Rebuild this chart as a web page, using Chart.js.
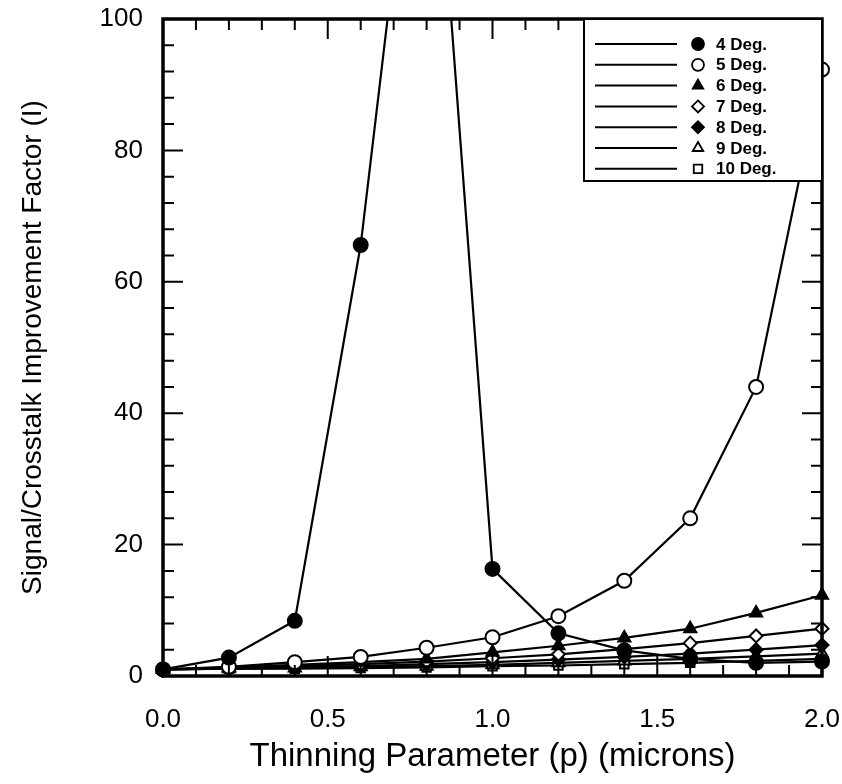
<!DOCTYPE html>
<html>
<head>
<meta charset="utf-8">
<script src="https://cdn.jsdelivr.net/npm/chart.js@4/dist/chart.umd.min.js"></script>
<style>
  html, body { margin: 0; padding: 0; background: #fff; }
  #wrap { width: 842px; height: 784px; position: relative; }
</style>
</head>
<body>
<div id="wrap"><canvas id="c" width="842" height="784"></canvas></div>
<script>
// Thinning parameter p (microns) at which I was evaluated
const thinning = [0.0, 0.2, 0.4, 0.6, 0.8, 1.0, 1.2, 1.4, 1.6, 1.8, 2.0];

// Signal/crosstalk improvement factor I, one series per angle
const deg4  = [1.0, 2.8, 8.4, 65.6, 150.0, 16.3, 6.5, 3.9, 2.6, 2.0, 2.2];
const deg5  = [1.0, 1.4, 2.1, 2.9, 4.3, 5.9, 9.1, 14.5, 24.0, 44.0, 92.3];
const deg6  = [1.0, 1.3, 1.7, 2.1, 2.6, 3.6, 4.6, 5.8, 7.2, 9.6, 12.3];
const deg7  = [1.0, 1.2, 1.5, 1.8, 2.2, 2.7, 3.3, 4.1, 5.0, 6.1, 7.2];
const deg8  = [1.0, 1.1, 1.3, 1.5, 1.8, 2.1, 2.5, 2.9, 3.4, 4.0, 4.7];
const deg9  = [1.0, 1.1, 1.2, 1.4, 1.5, 1.7, 2.0, 2.3, 2.6, 3.0, 3.4];
const deg10 = [1.0, 1.1, 1.1, 1.2, 1.3, 1.5, 1.6, 1.8, 2.0, 2.3, 2.6];

const seriesLabels = ['4 Deg.', '5 Deg.', '6 Deg.', '7 Deg.', '8 Deg.', '9 Deg.', '10 Deg.'];
const seriesValues = [deg4, deg5, deg6, deg7, deg8, deg9, deg10];

// Axis tick labels
const xTickValues = [0.0, 0.5, 1.0, 1.5, 2.0];
const xTickLabels = ['0.0', '0.5', '1.0', '1.5', '2.0'];
const yTickValues = [0, 20, 40, 60, 80, 100];
const yTickLabels = ['0', '20', '40', '60', '80', '100'];

// Marker look per series: shape, filled or hollow, size
const markers = [
  { style: 'circle',   filled: true,  r: 7 },
  { style: 'circle',   filled: false, r: 7 },
  { style: 'triangle', filled: true,  r: 7 },
  { style: 'rectRot',  filled: false, r: 6.5 },
  { style: 'rectRot',  filled: true,  r: 6.5 },
  { style: 'triangle', filled: false, r: 7 },
  { style: 'rect',     filled: false, r: 6 }
];

const FONT = '"Liberation Sans", Arial, Helvetica, sans-serif';

const datasets = seriesValues.map((vals, i) => ({
  label: seriesLabels[i],
  data: thinning.map((p, k) => ({ x: p, y: vals[k] })),
  borderColor: '#000',
  borderWidth: 2.2,
  pointStyle: markers[i].style,
  pointRadius: markers[i].r,
  pointBorderWidth: 2,
  pointBorderColor: '#000',
  pointBackgroundColor: markers[i].filled ? '#000' : '#fff',
  tension: 0,
  clip: { left: 12, right: 12, top: 0, bottom: 12 }
}));

// Keep the plot box at a fixed place: no extra room for overhanging labels
function noOverhang(scale) {
  scale.paddingTop = 0;
  scale.paddingBottom = 0;
  scale.paddingLeft = 0;
  scale.paddingRight = 0;
}

// Inward ticks on all four sides plus the heavy frame
const framePlugin = {
  id: 'frame',
  afterDatasetsDraw(chart) {
    const { ctx, chartArea: a, scales: { x, y } } = chart;
    ctx.save();
    ctx.strokeStyle = '#000';
    ctx.lineWidth = 2;
    ctx.beginPath();
    for (let k = 0; k <= 20; k++) {
      const px = x.getPixelForValue(k / 10);
      const len = (k % 5 === 0) ? 20 : 11;
      ctx.moveTo(px, a.bottom); ctx.lineTo(px, a.bottom - len);
      ctx.moveTo(px, a.top);    ctx.lineTo(px, a.top + len);
    }
    for (let v = 0; v <= 100; v += 4) {
      const py = y.getPixelForValue(v);
      const len = (v % 20 === 0) ? 20 : 11;
      ctx.moveTo(a.left, py);  ctx.lineTo(a.left + len, py);
      ctx.moveTo(a.right, py); ctx.lineTo(a.right - len, py);
    }
    ctx.stroke();
    ctx.lineWidth = 3.5;
    ctx.strokeRect(a.left, a.top, a.right - a.left, a.bottom - a.top);
    ctx.restore();
  }
};

// Boxed key: a line sample, the marker, then the series name
const keyPlugin = {
  id: 'keyBox',
  afterDraw(chart) {
    const { ctx, chartArea: a } = chart;
    const boxL = 584, boxT = a.top, boxR = a.right, boxB = 181;
    ctx.save();
    ctx.fillStyle = '#fff';
    ctx.fillRect(boxL, boxT, boxR - boxL, boxB - boxT);
    ctx.strokeStyle = '#000';
    ctx.lineWidth = 2;
    ctx.strokeRect(boxL, boxT, boxR - boxL, boxB - boxT);
    ctx.font = 'bold 17px ' + FONT;
    ctx.textBaseline = 'middle';
    ctx.textAlign = 'left';
    chart.data.datasets.forEach((ds, i) => {
      const yy = 44 + i * 20.8;
      ctx.strokeStyle = '#000';
      ctx.lineWidth = 2;
      ctx.beginPath();
      ctx.moveTo(595, yy); ctx.lineTo(677, yy);
      ctx.stroke();
      ctx.fillStyle = ds.pointBackgroundColor;
      ctx.strokeStyle = '#000';
      ctx.lineWidth = 1.8;
      Chart.helpers.drawPoint(ctx, { pointStyle: ds.pointStyle, radius: 6, borderWidth: 1.8, rotation: 0 }, 698, yy);
      ctx.fillStyle = '#000';
      ctx.fillText(ds.label, 716, yy + 1);
    });
    ctx.restore();
  }
};

new Chart(document.getElementById('c'), {
  type: 'line',
  data: { datasets },
  options: {
    responsive: false,
    animation: false,
    devicePixelRatio: 1,
    layout: { padding: { top: 19, right: 20, left: 0, bottom: 0 } },
    plugins: { legend: { display: false }, tooltip: { enabled: false } },
    elements: { line: { fill: false } },
    scales: {
      x: {
        type: 'linear',
        min: 0, max: 2,
        border: { display: false },
        grid: { display: false, drawTicks: false },
        afterBuildTicks(scale) { scale.ticks = xTickValues.map(v => ({ value: v })); },
        afterFit(scale) { scale.height = 108; noOverhang(scale); },
        ticks: {
          color: '#000',
          padding: 28,
          maxRotation: 0,
          font: { family: FONT, size: 26 },
          callback: (v) => xTickLabels[xTickValues.indexOf(v)]
        },
        title: {
          display: true,
          text: 'Thinning Parameter (p) (microns)',
          color: '#000',
          font: { family: FONT, size: 33 },
          padding: { top: 0, bottom: 7 }
        }
      },
      y: {
        type: 'linear',
        min: 0, max: 100,
        border: { display: false },
        grid: { display: false, drawTicks: false },
        afterBuildTicks(scale) { scale.ticks = yTickValues.map(v => ({ value: v })); },
        afterFit(scale) { scale.width = 163; noOverhang(scale); },
        ticks: {
          color: '#000',
          padding: 20,
          font: { family: FONT, size: 26 },
          callback: (v) => yTickLabels[yTickValues.indexOf(v)]
        },
        title: {
          display: true,
          text: 'Signal/Crosstalk Improvement Factor (I)',
          color: '#000',
          font: { family: FONT, size: 28 },
          padding: { top: 16, bottom: 0 }
        }
      }
    }
  },
  plugins: [framePlugin, keyPlugin]
});
</script>
</body>
</html>
